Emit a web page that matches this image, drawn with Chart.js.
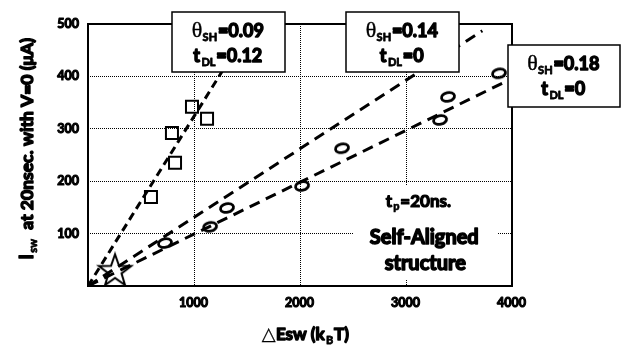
<!DOCTYPE html>
<html>
<head>
<meta charset="utf-8">
<script src="https://cdn.jsdelivr.net/npm/chart.js@4/dist/chart.umd.min.js"></script>
<style>
  html, body { margin: 0; padding: 0; background: #fff; }
  #wrap { width: 621px; height: 345px; }
</style>
</head>
<body>
<div id="wrap"><canvas id="c" width="621" height="345"></canvas></div>
<script>
// Measured switching currents (x: ΔEsw in kBT, y: Isw in μA)
const squarePts = [[594, 170], [792, 292], [821, 235], [981, 342], [1123, 319]];
const circlePts = [[726, 82], [1151, 113], [1311, 149], [2019, 191], [2396, 263], [3321, 317], [3396, 361], [3877, 406]];
const starPt = [[255, 30]];

// Dashed fit lines through the origin (end points)
const fitA = [[0, 0], [1545, 500]];   // θSH=0.09, tDL=0.12
const fitB = [[0, 0], [3720, 487]];   // θSH=0.14, tDL=0
const fitC = [[0, 0], [4000, 396]];   // θSH=0.18, tDL=0

// Axis ticks
const xTicks = [1000, 2000, 3000, 4000];
const yTicks = [100, 200, 300, 400, 500];

const FONT = '"Lato", "Open Sans", sans-serif';
const SERIF = '"Liberation Serif", "DejaVu Serif", serif';

const toXY = arr => arr.map(p => ({ x: p[0], y: p[1] }));

// Marker images
function ellipseMarker() {
  const c = document.createElement('canvas');
  c.width = 20; c.height = 16;
  const g = c.getContext('2d');
  g.lineWidth = 2.8;
  g.strokeStyle = '#000';
  g.beginPath();
  g.ellipse(10, 8, 6.6, 4.3, -0.22, 0, Math.PI * 2);
  g.stroke();
  return c;
}
function starMarker() {
  const c = document.createElement('canvas');
  c.width = 40; c.height = 38;
  const g = c.getContext('2d');
  const cx = 20, cy = 20, R = 17, r = 6.8;
  g.beginPath();
  for (let i = 0; i < 10; i++) {
    const rad = i % 2 === 0 ? R : r;
    const a = -Math.PI / 2 + i * Math.PI / 5;
    const px = cx + rad * Math.cos(a), py = cy + rad * Math.sin(a);
    if (i === 0) g.moveTo(px, py); else g.lineTo(px, py);
  }
  g.closePath();
  g.fillStyle = '#fff';
  g.fill();
  g.lineWidth = 2;
  g.strokeStyle = '#000';
  g.lineJoin = 'miter';
  g.stroke();
  return c;
}

// Heavy text: fill plus a thin outline
function heavyText(ctx, t, x, y, weight) {
  ctx.fillText(t, x, y);
  if (weight) {
    ctx.lineWidth = weight;
    ctx.strokeStyle = ctx.fillStyle;
    ctx.lineJoin = 'round';
    ctx.strokeText(t, x, y);
  }
}

// Draw text made of runs, some of them subscripts
function drawRuns(ctx, runs, x, y, align) {
  let total = 0;
  runs.forEach(r => { ctx.font = r.font; r.w = ctx.measureText(r.t).width + (r.heavy ? r.heavy : 0); total += r.w; });
  let cx = align === 'center' ? x - total / 2 : x;
  ctx.textAlign = 'left';
  ctx.textBaseline = 'alphabetic';
  runs.forEach(r => {
    ctx.font = r.font;
    heavyText(ctx, r.t, cx, y + (r.dy || 0), r.heavy);
    cx += r.w;
  });
}
const B = s => `700 ${s}px ${FONT}`;

function paramBox(ctx, x0, y0, x1, y1, theta, tdl) {
  ctx.save();
  ctx.fillStyle = '#fff';
  ctx.fillRect(x0, y0, x1 - x0, y1 - y0);
  ctx.strokeStyle = '#000';
  ctx.lineWidth = 1.5;
  ctx.strokeRect(x0, y0, x1 - x0, y1 - y0);
  ctx.fillStyle = '#000';
  const cx = (x0 + x1) / 2;
  drawRuns(ctx, [
    { t: 'θ', font: `400 22px ${SERIF}`, heavy: 0.4 },
    { t: 'SH', font: B(11), dy: 4, heavy: 0.8 },
    { t: '=0.' + theta, font: B(18), heavy: 1.4 }
  ], cx, y0 + 25, 'center');
  drawRuns(ctx, [
    { t: 't', font: B(18), heavy: 1.4 },
    { t: 'DL', font: B(11), dy: 4, heavy: 0.8 },
    { t: '=' + tdl, font: B(18), heavy: 1.4 }
  ], cx, y0 + 50, 'center');
  ctx.restore();
}

const decor = {
  id: 'decor',
  beforeDraw(chart) {
    const ctx = chart.ctx;
    ctx.save();
    ctx.fillStyle = '#fff';
    ctx.fillRect(0, 0, chart.width, chart.height);
    ctx.restore();
  },
  beforeDatasetsDraw(chart) {
    // plain background behind the structure note
    const ctx = chart.ctx;
    ctx.save();
    ctx.fillStyle = '#fff';
    ctx.fillRect(353, 186, 145, 94);
    ctx.fillStyle = '#000';
    drawRuns(ctx, [
      { t: 't', font: B(17), heavy: 1.2 },
      { t: 'p', font: B(11), dy: 3, heavy: 0.7 },
      { t: '=20ns.', font: B(17), heavy: 1.2 }
    ], 419, 207, 'center');
    drawRuns(ctx, [{ t: 'Self-Aligned', font: B(20), heavy: 1.5 }], 425, 244, 'center');
    drawRuns(ctx, [{ t: 'structure', font: B(20), heavy: 1.5 }], 426, 270, 'center');
    ctx.restore();
  },
  afterDatasetsDraw(chart) {
    const ctx = chart.ctx;
    const a = chart.chartArea;
    ctx.save();
    ctx.strokeStyle = '#000';
    ctx.lineWidth = 2;
    ctx.strokeRect(a.left, a.top, a.right - a.left, a.bottom - a.top);
    ctx.restore();
  },
  afterDraw(chart) {
    const ctx = chart.ctx;
    paramBox(ctx, 172, 12, 285, 72, '09', '0.12');
    paramBox(ctx, 346, 12, 459, 72, '14', '0');
    paramBox(ctx, 508, 45, 620, 107, '18', '0');

    ctx.save();
    ctx.fillStyle = '#000';
    // tick labels placed by the chart's scales
    const xs = chart.scales.x, ys = chart.scales.y;
    const a = chart.chartArea;
    xTicks.forEach(v => {
      drawRuns(ctx, [{ t: String(v), font: B(12.5), heavy: 1.1 }], xs.getPixelForValue(v), a.bottom + 21, 'center');
    });
    ctx.textAlign = 'right';
    yTicks.forEach(v => {
      ctx.font = B(12.5);
      ctx.textBaseline = 'middle';
      heavyText(ctx, String(v), a.left - 9, ys.getPixelForValue(v), 1.1);
    });
    // x axis title
    drawRuns(ctx, [
      { t: '△', font: `400 18px "DejaVu Sans", sans-serif`, heavy: 0.3 },
      { t: 'Esw (k', font: B(17), heavy: 1.4 },
      { t: 'B', font: B(11), dy: 4, heavy: 0.8 },
      { t: 'T)', font: B(17), heavy: 1.4 }
    ], 306, 340, 'center');
    // y axis title
    ctx.translate(33, 148);
    ctx.rotate(-Math.PI / 2);
    drawRuns(ctx, [
      { t: 'I', font: B(18), heavy: 1.4 },
      { t: 'sw', font: B(11), dy: 4, heavy: 0.8 },
      { t: '  at 20nsec. with V=0 (μA)', font: B(17.5), heavy: 1.4 }
    ], 0, 0, 'center');
    ctx.restore();
  }
};

const lineDS = (pts, dash) => ({
  type: 'scatter',
  data: toXY(pts),
  showLine: true,
  borderColor: '#000',
  borderWidth: 3,
  borderDash: dash,
  pointRadius: 0,
  fill: false
});

new Chart(document.getElementById('c'), {
  type: 'scatter',
  data: {
    datasets: [
      lineDS(fitA, [8, 5]),
      lineDS(fitB, [11, 7]),
      lineDS(fitC, [11, 7]),
      {
        data: toXY(squarePts),
        pointStyle: 'rect',
        pointRadius: 8.5,
        borderColor: '#000',
        borderWidth: 2,
        backgroundColor: 'rgba(0,0,0,0)'
      },
      {
        data: toXY(circlePts),
        pointStyle: ellipseMarker(),
        pointRadius: 8
      },
      {
        data: toXY(starPt),
        pointStyle: starMarker(),
        pointRadius: 17
      }
    ]
  },
  options: {
    responsive: false,
    animation: false,
    events: [],
    layout: { padding: { left: 0, top: 24, right: 109, bottom: 0 } },
    plugins: { legend: { display: false }, tooltip: { enabled: false } },
    scales: {
      x: {
        type: 'linear',
        min: 0, max: 4000,
        afterBuildTicks: s => { s.ticks = [0].concat(xTicks).map(v => ({ value: v })); },
        afterFit: s => { s.height = 59; },
        ticks: { display: false },
        grid: {
          drawTicks: false,
          color: c => (c.tick && (c.tick.value === 0 || c.tick.value === 4000) ? 'rgba(0,0,0,0)' : '#000'),
          lineWidth: 1
        },
        border: { display: false, dash: [1, 1] }
      },
      y: {
        type: 'linear',
        min: 0, max: 500,
        afterBuildTicks: s => { s.ticks = [0].concat(yTicks).map(v => ({ value: v })); },
        afterFit: s => { s.width = 88; },
        ticks: { display: false },
        grid: {
          drawTicks: false,
          color: c => (c.tick && (c.tick.value === 0 || c.tick.value === 500) ? 'rgba(0,0,0,0)' : '#000'),
          lineWidth: 1
        },
        border: { display: false, dash: [1, 1] }
      }
    }
  },
  plugins: [decor]
});
</script>
</body>
</html>
